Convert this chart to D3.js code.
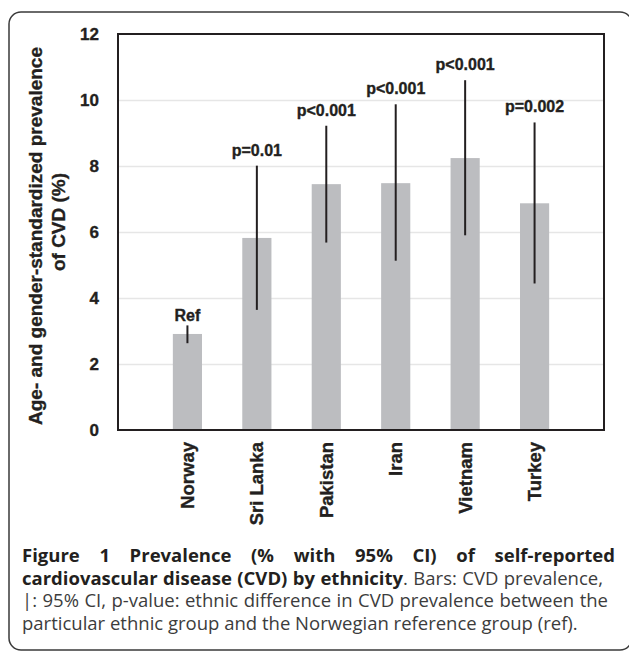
<!DOCTYPE html>
<html>
<head>
<meta charset="utf-8">
<script src="https://cdn.jsdelivr.net/npm/d3@7"></script>
<style>
  body { margin: 0; background: #fff; }
  svg text.chart { font-family: 'Liberation Sans', Arial, sans-serif; font-weight: bold; fill: #231f20; stroke: #231f20; stroke-width: 0.35px; }
  svg text.cap { font-family: 'Open Sans', sans-serif; font-size: 18.5px; }
</style>
</head>
<body>
<div id="chart"></div>
<script>
// data
const groups = ['Norway', 'Sri Lanka', 'Pakistan', 'Iran', 'Vietnam', 'Turkey']
const prevalence = [2.91, 5.82, 7.45, 7.48, 8.24, 6.87]
const ciLow = [2.63, 3.64, 5.68, 5.13, 5.90, 4.44]
const ciHigh = [3.17, 8.01, 9.22, 9.87, 10.60, 9.32]
const pLabels = ['Ref', 'p=0.01', 'p<0.001', 'p<0.001', 'p<0.001', 'p=0.002']
const yTicks = [0, 2, 4, 6, 8, 10, 12]
const yTitle = ['Age- and gender-standardized prevalence', 'of CVD (%)']
const caption = [
  [{ t: 'Figure 1 Prevalence (% with 95% CI) of self-reported', b: true }],
  [{ t: 'cardiovascular disease (CVD) by ethnicity', b: true }, { t: '. Bars: CVD prevalence,', b: false }],
  [{ t: '|: 95% CI, p-value: ethnic difference in CVD prevalence between the', b: false }],
  [{ t: 'particular ethnic group and the Norwegian reference group (ref).', b: false }]
]

let w = 629, h = 652
let margin = { left: 118, top: 34, right: 25, bottom: 222 }
let pw = w - margin.left - margin.right,
  ph = h - margin.top - margin.bottom

let svg = d3.select('#chart').append('svg')
  .attr('width', w).attr('height', h)

// outer rounded frame (right edge runs off the page)
svg.append('rect')
  .attr('x', 9).attr('y', 12).attr('width', 623).attr('height', 638)
  .attr('rx', 12).attr('ry', 12)
  .attr('fill', 'none').attr('stroke', '#3a3a3a').attr('stroke-width', 1.5)

let graph = svg.append('g')
  .attr('transform', `translate(${margin.left},${margin.top})`)

let data = groups.map((g, i) => ({
  key: g, value: prevalence[i], lo: ciLow[i], hi: ciHigh[i], label: pLabels[i]
}))

let x = d3.scaleBand().domain(groups).range([0, pw])
  .paddingInner(0.58).paddingOuter(0.79)
let y = d3.scaleLinear().domain([0, 12]).range([ph, 0])

// gridlines
graph.append('g')
  .call(d3.axisLeft(y).tickValues(yTicks.slice(1, -1)).tickSize(-pw).tickFormat(''))
  .call(g => g.select('.domain').remove())
  .selectAll('line').attr('stroke', '#e6e6e6').attr('stroke-width', 1.5)

// bars
graph.selectAll('rect.bar')
  .data(data).enter().append('rect')
  .classed('bar', true)
  .attr('x', d => x(d.key))
  .attr('y', d => y(d.value))
  .attr('width', x.bandwidth())
  .attr('height', d => y(0) - y(d.value))
  .attr('fill', '#bcbdc0')

// CI lines
graph.selectAll('line.ci')
  .data(data).enter().append('line')
  .classed('ci', true)
  .attr('x1', d => x(d.key) + x.bandwidth() / 2)
  .attr('x2', d => x(d.key) + x.bandwidth() / 2)
  .attr('y1', d => y(d.lo))
  .attr('y2', d => y(d.hi))
  .attr('stroke', '#231f20').attr('stroke-width', 2)

// p-value labels
graph.selectAll('text.plab')
  .data(data).enter().append('text')
  .attr('class', 'plab chart')
  .attr('x', d => x(d.key) + x.bandwidth() / 2)
  .attr('y', d => y(d.hi) - (d.label === 'Ref' ? 4 : 10))
  .attr('text-anchor', 'middle')
  .style('font-size', '16px')
  .text(d => d.label)

// frame of plot
graph.append('rect')
  .attr('width', pw).attr('height', ph)
  .attr('fill', 'none').attr('stroke', '#231f20').attr('stroke-width', 2)

// y axis
graph.append('g')
  .call(d3.axisLeft(y).tickValues(yTicks).tickSize(0).tickPadding(19))
  .call(g => g.select('.domain').remove())
  .selectAll('text')
  .attr('class', 'chart')
  .style('font-size', '17px')

// x axis
graph.append('g')
  .attr('transform', `translate(0,${ph})`)
  .call(d3.axisBottom(x).tickSize(0))
  .call(g => g.select('.domain').remove())
  .selectAll('text')
  .attr('class', 'chart')
  .attr('transform', 'rotate(-90)')
  .attr('x', -12).attr('y', 0).attr('dy', '0.35em')
  .attr('text-anchor', 'end')
  .style('font-size', '18.5px')

// y title
let yt = svg.append('text')
  .attr('class', 'chart')
  .attr('transform', `translate(42,236) rotate(-90)`)
  .attr('text-anchor', 'middle')
  .style('font-size', '19px')
yt.selectAll('tspan').data(yTitle).enter().append('tspan')
  .attr('x', (d, i) => i ? 14 : 0).attr('dy', (d, i) => i ? 23 : 0)
  .text(d => d)

// caption, laid out word by word and justified
let capW = [593, 581, 586, null]
let capG = svg.append('g')
caption.forEach((segs, li) => {
  let tokens = []
  segs.forEach((s, si) => {
    s.t.split(' ').forEach((part, j) => {
      if (!part) return
      if (j === 0 && si > 0 && s.t[0] !== ' ') tokens[tokens.length - 1].push({ t: part, b: s.b })
      else tokens.push([{ t: part, b: s.b }])
    })
  })
  let by = 562 + li * 22.7
  let nodes = tokens.map(tk => {
    let t = capG.append('text').attr('class', 'cap')
    tk.forEach(p => t.append('tspan').text(p.t)
      .style('font-weight', p.b ? 'bold' : 'normal')
      .style('fill', p.b ? '#231f20' : '#3c3c3c'))
    return t
  })
  let widths = nodes.map(n => n.node().getComputedTextLength())
  let total = d3.sum(widths)
  let minGap = 4
  let k = 1, gap = 18.5 * 0.26
  if (capW[li]) {
    k = Math.min(1, (capW[li] - minGap * (nodes.length - 1)) / total)
    gap = (capW[li] - k * total) / (nodes.length - 1)
  }
  let cx = 22
  nodes.forEach((n, i) => {
    n.attr('transform', `translate(${cx},${by}) scale(${k},1)`)
    cx += k * widths[i] + gap
  })
})
</script>
</body>
</html>
